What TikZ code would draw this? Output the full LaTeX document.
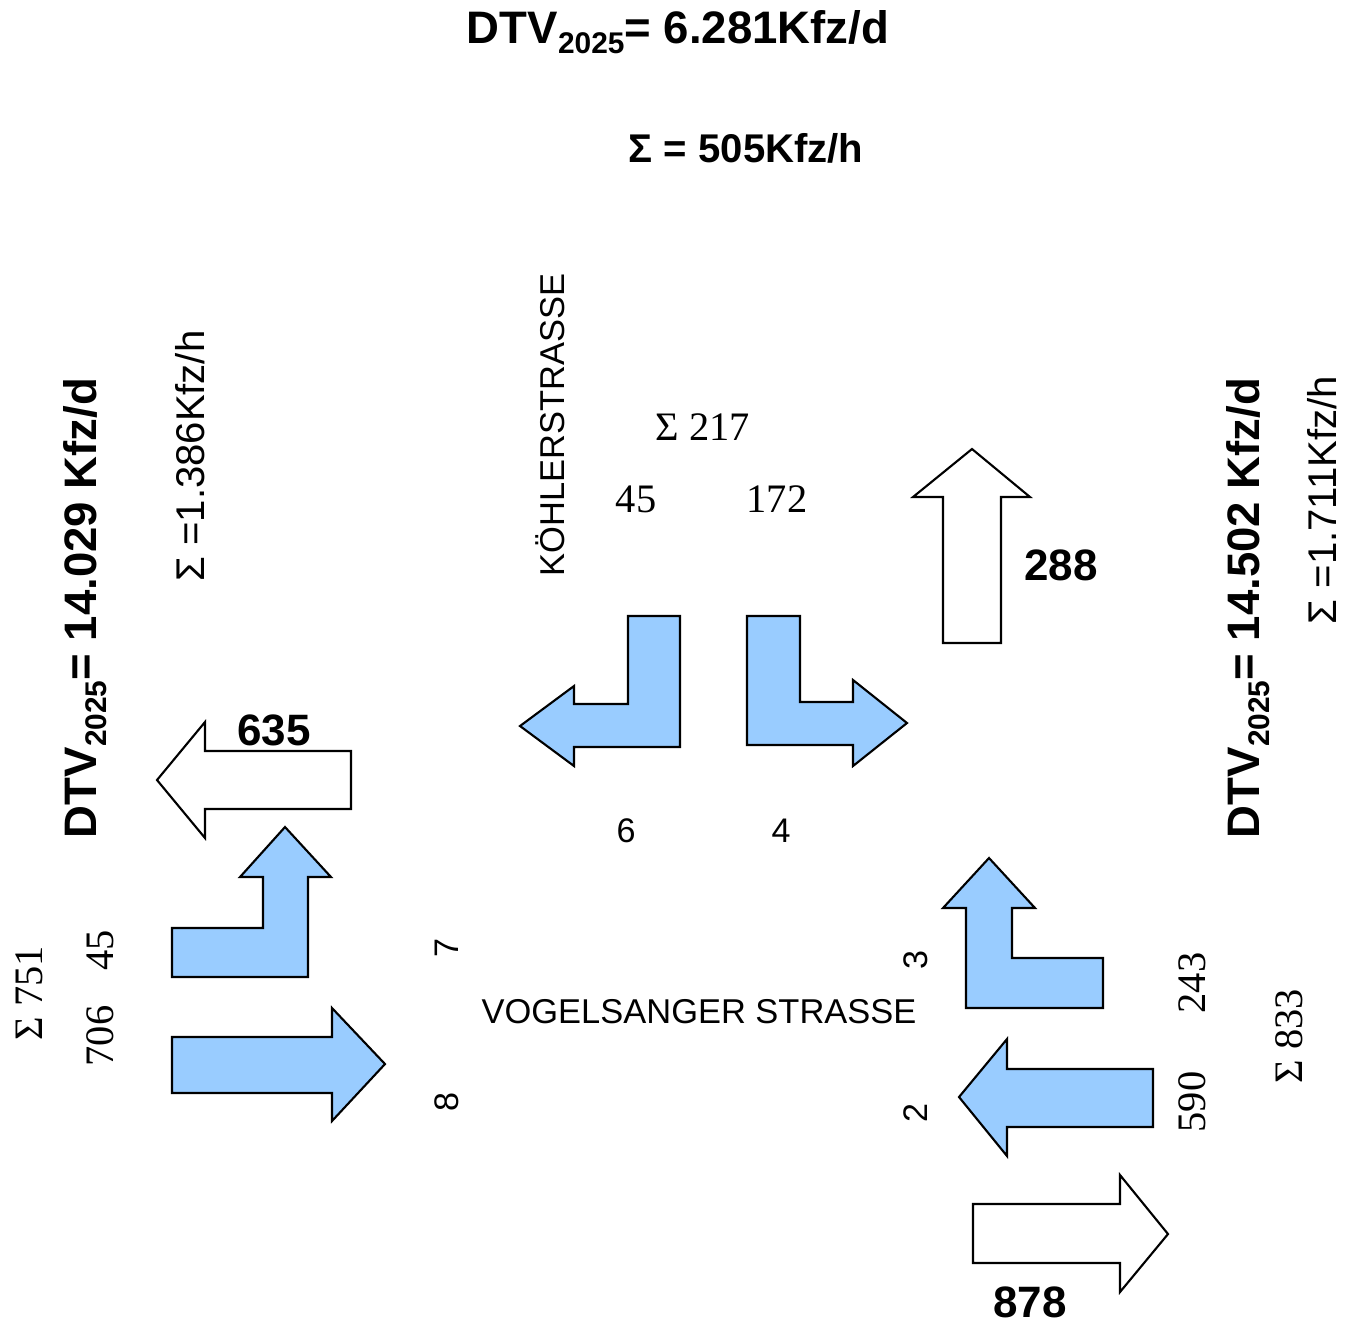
\documentclass[tikz,border=0pt]{standalone}
\usepackage{fontspec}
\setmainfont{Liberation Serif}
\setsansfont{Liberation Sans}
\definecolor{flow}{HTML}{99CCFF}
\newcommand{\mysub}[1]{\raisebox{-0.22em}{\fontsize{8.5}{10}\selectfont #1}}
\tikzset{
  blk/.style={draw=black, line width=0.6pt, line join=miter},
  turn/.style={blk, fill=flow},
  total/.style={blk, fill=white},
  lbl/.style={inner sep=0pt, anchor=base},
  dtv/.style={lbl, font=\sffamily\bfseries\fontsize{12.95}{15}\selectfont},
  sumbold/.style={lbl, font=\sffamily\bfseries\fontsize{11.4}{13}\selectfont},
  sumreg/.style={lbl, font=\sffamily\fontsize{11.4}{13}\selectfont},
  bignum/.style={lbl, font=\sffamily\bfseries\fontsize{12.5}{14}\selectfont},
  street/.style={lbl, font=\sffamily\fontsize{9.8}{11}\selectfont},
  smallnum/.style={lbl, font=\sffamily\fontsize{9.7}{11}\selectfont},
  sernum/.style={lbl, font=\rmfamily\fontsize{11.5}{13}\selectfont},
}
\begin{document}
\begin{tikzpicture}[x=0.01cm, y=-0.01cm]
\useasboundingbox (0,0) rectangle (1355,1323);

% ---- arrows ----
\draw[turn] (520,726) -- (574,686) -- (574,704) -- (628,704) -- (628,616) -- (680,616) -- (680,747) -- (574,747) -- (574,766) -- cycle;
\draw[turn] (747,616) -- (800,616) -- (800,702) -- (853,702) -- (853,680) -- (907,723) -- (853,766) -- (853,745) -- (747,745) -- cycle;
\draw[total] (972,449) -- (1030,497) -- (1001,497) -- (1001,643) -- (943,643) -- (943,497) -- (913,497) -- cycle;
\draw[total] (157,780) -- (205,722) -- (205,751) -- (351,751) -- (351,809) -- (205,809) -- (205,838) -- cycle;
\draw[turn] (172,928) -- (263,928) -- (263,877) -- (240,877) -- (285,827) -- (331,877) -- (308,877) -- (308,977) -- (172,977) -- cycle;
\draw[turn] (172,1037) -- (332,1037) -- (332,1008) -- (385,1064) -- (332,1121) -- (332,1093) -- (172,1093) -- cycle;
\draw[turn] (1103,958) -- (1012,958) -- (1012,908) -- (1035,908) -- (989,858) -- (943,908) -- (966,908) -- (966,1008) -- (1103,1008) -- cycle;
\draw[turn] (959,1097) -- (1007,1039) -- (1007,1069) -- (1153,1069) -- (1153,1127) -- (1007,1127) -- (1007,1156) -- cycle;
\draw[total] (973,1204) -- (1120,1204) -- (1120,1175) -- (1168,1234) -- (1120,1292) -- (1120,1263) -- (973,1263) -- cycle;

% ---- headings ----
\node[dtv] (dtvN) at (678,43) {DTV\mysub{2025}= 6.281Kfz/d};
\node[sumbold] (sumN) at (746,162) {Σ = 505Kfz/h};
\node[dtv, rotate=90] (dtvW) at (96,608) {DTV\mysub{2025}= 14.029 Kfz/d};
\node[sumreg, rotate=90] (sumW) at (204,456) {Σ =1.386Kfz/h};
\node[dtv, rotate=90] (dtvE) at (1259,608) {DTV\mysub{2025}= 14.502 Kfz/d};
\node[sumreg, rotate=90] (sumE) at (1336,500) {Σ =1.711Kfz/h};

% ---- streets ----
\node[street, rotate=90] (koehler) at (564,425) {KÖHLERSTRASSE};
\node[street] (vogel) at (699,1023) {VOGELSANGER STRASSE};

% ---- north approach ----
\node[sernum] (s217) at (703,440) {Σ 217};
\node[sernum] (n45) at (636,512) {45};
\node[sernum] (n172) at (777,512) {172};
\node[smallnum] (n6) at (626,842) {6};
\node[smallnum] (n4) at (781,842) {4};
\node[bignum] (n288) at (1061,580) {288};

% ---- west approach ----
\node[bignum] (n635) at (274,745) {635};
\node[sernum, rotate=90] (s751) at (42,993) {Σ 751};
\node[sernum, rotate=90] (w45) at (113,950) {45};
\node[sernum, rotate=90] (w706) at (113,1036) {706};
\node[smallnum, rotate=90] (n7) at (458,948) {7};
\node[smallnum, rotate=90] (n8) at (458,1102) {8};

% ---- east approach ----
\node[smallnum, rotate=90] (n3) at (927,960) {3};
\node[smallnum, rotate=90] (n2) at (927,1113) {2};
\node[sernum, rotate=90] (e243) at (1205,983) {243};
\node[sernum, rotate=90] (e590) at (1205,1102) {590};
\node[sernum, rotate=90] (s833) at (1302,1036) {Σ 833};
\node[bignum] (n878) at (1030,1317) {878};
\end{tikzpicture}
\end{document}
